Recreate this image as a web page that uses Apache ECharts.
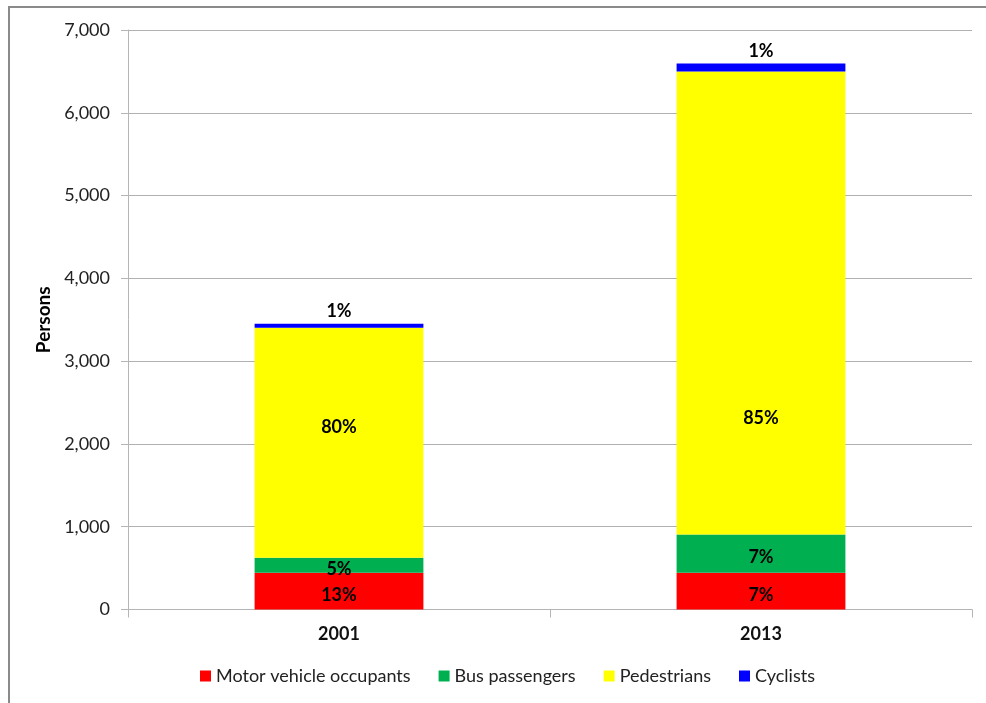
<!DOCTYPE html>
<html>
<head>
<meta charset="utf-8">
<title>Persons by road user type, 2001 and 2013</title>
<script src="https://cdn.jsdelivr.net/npm/echarts@6/dist/echarts.min.js"></script>
<style>
  html, body { margin: 0; padding: 0; background: #ffffff; }
  #chart { width: 986px; height: 703px; }
</style>
</head>
<body>
<div id="chart"></div>
<script>
// Survey years on the category axis
const years = ['2001', '2013'];

// Persons in each road user group, per year
const motorVehicleOccupants = [445, 445];
const busPassengers = [180, 460];
const pedestrians = [2778, 5595];
const cyclists = [50, 95];

// Value axis ticks
const yTicks = [0, 1000, 2000, 3000, 4000, 5000, 6000, 7000];

const seriesNames = ['Motor vehicle occupants', 'Bus passengers', 'Pedestrians', 'Cyclists'];
const seriesValues = [motorVehicleOccupants, busPassengers, pedestrians, cyclists];
const seriesColors = ['#FF0000', '#00B050', '#FFFF00', '#0000FF'];

const FONT = 'Lato, "Open Sans", sans-serif';

// Yearly totals used for the share labels
const totals = years.map((_, i) => seriesValues.reduce((s, arr) => s + arr[i], 0));
const share = (v, i) => Math.round(v / totals[i] * 100) + '%';

// Pedestrian share labels sit away from the segment middle
const pedLabelShift = [-16, 115];

const series = seriesNames.map((name, si) => {
  const isTop = si === seriesNames.length - 1;
  return {
    name: name,
    type: 'bar',
    stack: 'persons',
    barWidth: '40%',
    itemStyle: { color: seriesColors[si] },
    label: {
      show: true,
      position: isTop ? 'top' : 'inside',
      distance: 3,
      offset: isTop ? [0, 0] : [0, 4],
      color: '#000000',
      fontFamily: FONT,
      fontWeight: 'bold',
      fontSize: 18,
      formatter: p => share(p.value, p.dataIndex)
    },
    data: seriesValues[si].map((v, i) => {
      const item = { value: v };
      if (si === 2) {
        item.label = { offset: [0, pedLabelShift[i]] };
      }
      return item;
    })
  };
});

const chart = echarts.init(document.getElementById('chart'), null, { renderer: 'canvas' });

chart.setOption({
  animation: false,
  backgroundColor: '#ffffff',
  graphic: [{
    type: 'rect',
    shape: { x: 9, y: 7, width: 1000, height: 720 },
    style: { fill: 'none', stroke: '#8a8a8a', lineWidth: 2 },
    silent: true,
    z: 100
  }],
  grid: { left: 128, right: 14, top: 30, bottom: 93.5, containLabel: false },
  legend: {
    data: seriesNames,
    left: 195,
    top: 662,
    icon: 'rect',
    itemWidth: 11,
    itemHeight: 11,
    itemGap: 28,
    textStyle: { fontFamily: FONT, fontSize: 18, color: '#222222' }
  },
  xAxis: {
    type: 'category',
    data: years,
    axisLine: { show: true, lineStyle: { color: '#b5b5b5', width: 1 } },
    axisTick: { show: true, length: 8, alignWithLabel: false, lineStyle: { color: '#b5b5b5' } },
    axisLabel: {
      margin: 16,
      fontFamily: FONT,
      fontWeight: 'bold',
      fontSize: 18,
      color: '#111111'
    },
    splitLine: { show: false }
  },
  yAxis: {
    type: 'value',
    min: yTicks[0],
    max: yTicks[yTicks.length - 1],
    interval: 1000,
    name: 'Persons',
    nameLocation: 'middle',
    nameRotate: 90,
    nameGap: 74,
    nameTextStyle: { fontFamily: FONT, fontWeight: 'bold', fontSize: 19, color: '#000000' },
    axisLine: { show: true, lineStyle: { color: '#b5b5b5', width: 1 } },
    axisTick: { show: true, length: 7, inside: false, lineStyle: { color: '#b5b5b5' } },
    axisLabel: {
      margin: 18,
      fontFamily: FONT,
      fontSize: 18,
      color: '#222222',
      formatter: v => v.toLocaleString('en-US')
    },
    splitLine: { show: true, lineStyle: { color: '#b0b0b0', width: 1 } }
  },
  series: series
});
</script>
</body>
</html>
